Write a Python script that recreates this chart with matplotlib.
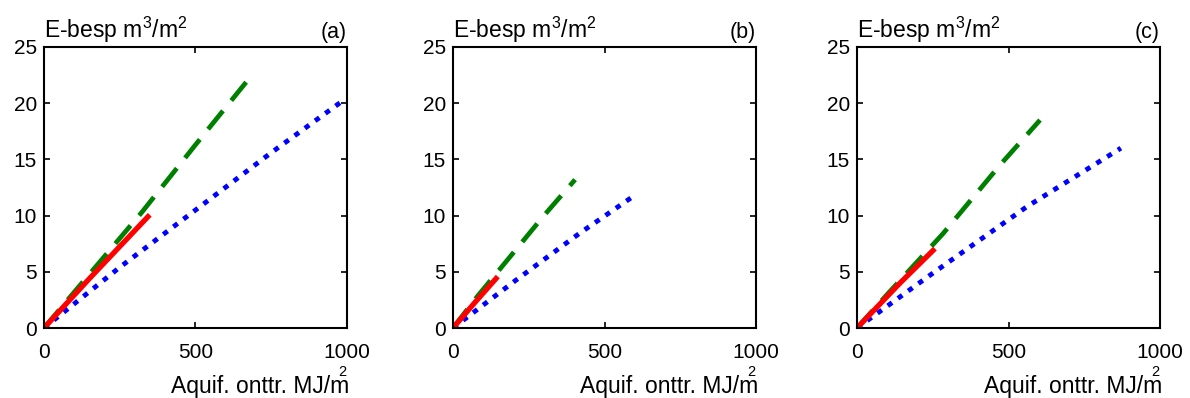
import matplotlib
matplotlib.use('Agg')
import matplotlib.pyplot as plt

plt.rcParams['font.family'] = ['Liberation Sans', 'DejaVu Sans']
plt.rcParams['mathtext.fontset'] = 'custom'
plt.rcParams['mathtext.rm'] = 'Liberation Sans'
plt.rcParams['mathtext.it'] = 'Liberation Sans'

# energie (MJ/m2) tegen besparing (m3/m2), per paneel drie reeksen
panels = ['(a)', '(b)', '(c)']

green_x = [[0, 100, 323, 500, 680], [0, 80, 178, 300, 403], [0, 100, 284, 472, 604]]
green_y = [[0, 3.2, 10.3, 16.3, 22.3], [0, 2.8, 6.0, 10.0, 13.2], [0, 3.0, 8.4, 14.5, 18.5]]

blue_x = [[0, 250, 515, 750, 980], [0, 200, 419, 594], [0, 241, 561, 871]]
blue_y = [[0, 5.4, 10.8, 15.6, 20.1], [0, 4.1, 8.45, 11.7], [0, 4.7, 10.8, 16.0]]

red_x = [[0, 150, 343], [0, 70, 142], [0, 142, 251]]
red_y = [[0, 4.4, 9.9], [0, 2.2, 4.4], [0, 4.0, 6.9]]

xticks = [0, 500, 1000]
yticks = [0, 5, 10, 15, 20, 25]

fig = plt.figure(figsize=(11.9, 3.98), dpi=100)
lefts = [44, 453, 857]

for i, lab in enumerate(panels):
    ax = fig.add_axes([lefts[i] / 1190, 70 / 398, 303 / 1190, 281 / 398])
    ax.plot(blue_x[i], blue_y[i], color='#0000ff', lw=3.5, dashes=(1.1, 1.5),
            solid_capstyle='butt', dash_capstyle='butt')
    ax.plot(green_x[i], green_y[i], color='#008000', lw=3.4, dashes=(5, 2.8),
            dash_capstyle='butt')
    ax.plot(red_x[i], red_y[i], color='#ff0000', lw=3.8, solid_capstyle='projecting')

    ax.set_xlim(0, 1000)
    ax.set_ylim(0, 25)
    ax.set_xticks(xticks)
    ax.set_yticks(yticks)
    ax.tick_params(direction='in', top=True, right=True, length=4, width=1.2,
                   labelsize=15)
    ax.tick_params(axis='x', pad=11)
    ax.tick_params(axis='y', pad=5)
    for s in ax.spines.values():
        s.set_linewidth(1.5)

    ax.text(0.0, 1.032, r'E-besp m$^3$/m$^2$', transform=ax.transAxes,
            ha='left', va='baseline', fontsize=16.5)
    ax.text(1.0, 1.032, lab, transform=ax.transAxes, ha='right',
            va='baseline', fontsize=15.5)
    ax.text(1.007, -0.231, 'Aquif. onttr. MJ/m', transform=ax.transAxes,
            ha='right', va='baseline', fontsize=16.5)
    ax.text(0.985, -0.172, '2', transform=ax.transAxes, ha='center',
            va='baseline', fontsize=10.5)

fig.savefig('out.png', dpi=100)
